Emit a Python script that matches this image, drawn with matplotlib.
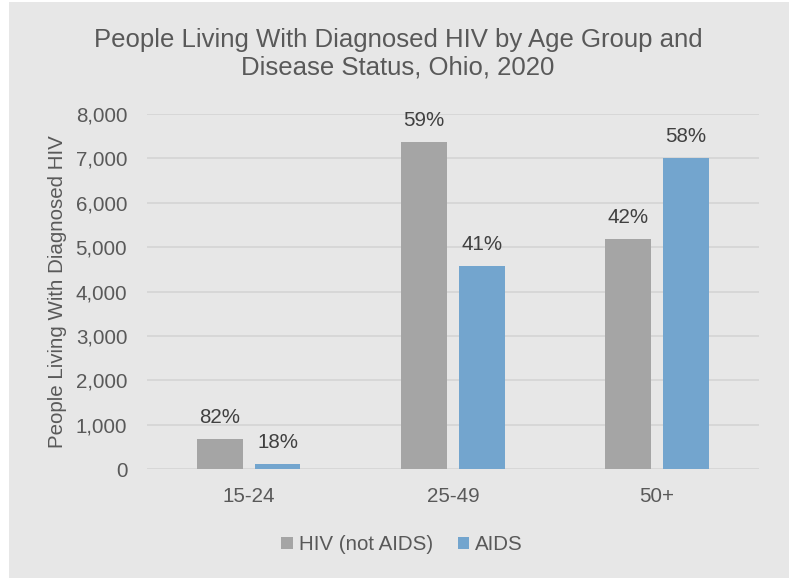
import matplotlib
matplotlib.use("Agg")
import matplotlib.pyplot as plt
import numpy as np
from matplotlib.patches import Rectangle, Patch

categories = ["15-24", "25-49", "50+"]
series_names = ["HIV (not AIDS)", "AIDS"]
hiv_not_aids = [680, 7370, 5180]
aids = [130, 4580, 7020]
hiv_labels = ["82%", "59%", "42%"]
aids_labels = ["18%", "41%", "58%"]
yticks = [0, 1000, 2000, 3000, 4000, 5000, 6000, 7000, 8000]
title_lines = ["People Living With Diagnosed HIV by Age Group and",
               "Disease Status, Ohio, 2020"]

GRAY = "#A5A5A5"
BLUE = "#73A5CE"
BG = "#E7E7E7"
TXT = "#595959"
LBL = "#404040"

plt.rcParams["font.family"] = ["Liberation Sans", "DejaVu Sans"]

fig = plt.figure(figsize=(7.94, 5.78), dpi=100, facecolor="white")
fig.patches.append(Rectangle((9/794, 0), (789-9)/794, 1 - 2/578,
                             transform=fig.transFigure, facecolor=BG,
                             edgecolor="none", zorder=-10))

ax = fig.add_axes([146.7/794, 1-469.3/578, (759-146.7)/794, (469.3-114)/578])
ax.set_facecolor("none")

x = np.arange(len(categories))
w = 0.223
off = 0.1417
b1 = ax.bar(x - off, hiv_not_aids, w, color=GRAY, zorder=3)
b2 = ax.bar(x + off, aids, w, color=BLUE, zorder=3)

for bars, labs in ((b1, hiv_labels), (b2, aids_labels)):
    for r, lab in zip(bars, labs):
        ax.annotate(lab, (r.get_x() + r.get_width()/2, r.get_height()),
                    xytext=(0, 11.5), textcoords="offset points",
                    ha="center", va="baseline", fontsize=14.8, color=LBL)

ax.set_xlim(-0.5, 2.5)
ax.set_ylim(0, 8000)
ax.set_yticks(yticks)
ax.set_yticklabels([f"{v:,}" for v in yticks])
ax.set_xticks(x)
ax.set_xticklabels(categories)
ax.tick_params(axis="both", length=0, labelsize=14.8, labelcolor=TXT)
ax.tick_params(axis="y", pad=14)
ax.tick_params(axis="x", pad=13)
ax.yaxis.grid(True, color="#D6D6D6", linewidth=1.3, zorder=0)
ax.set_axisbelow(True)
for s in ax.spines.values():
    s.set_visible(False)

ax.set_ylabel("People Living With Diagnosed HIV", fontsize=14.8, color=TXT, labelpad=6)

for line, ybase in zip(title_lines, (46.7, 75.0)):
    fig.text(398/794, 1-ybase/578, line, ha="center", va="baseline",
             fontsize=18.5, color=TXT)

handles = [Patch(facecolor=GRAY, label=series_names[0]),
           Patch(facecolor=BLUE, label=series_names[1])]
fig.legend(handles=handles, loc="center", bbox_to_anchor=(402/794, 1-545/578),
           ncol=2, frameon=False, fontsize=14.8, labelcolor=TXT,
           handlelength=0.55, handleheight=0.55, handletextpad=0.3, columnspacing=1.2)

fig.savefig("out.png", dpi=100, facecolor="white")
